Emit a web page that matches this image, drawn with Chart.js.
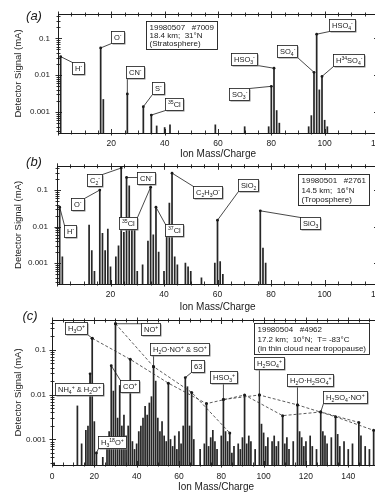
<!DOCTYPE html>
<html><head><meta charset="utf-8">
<script src="https://cdn.jsdelivr.net/npm/chart.js@4.4.1/dist/chart.umd.min.js"></script>
<style>
html,body{margin:0;padding:0;background:#fff;}
body{width:375px;height:493px;overflow:hidden;position:relative;}
canvas{position:absolute;left:0;}
</style></head><body>
<canvas id="ca" width="395" height="160" style="top:0px;width:395px;height:160px"></canvas>
<canvas id="cb" width="395" height="161" style="top:152px;width:395px;height:161px"></canvas>
<canvas id="cc" width="395" height="187" style="top:306px;width:395px;height:187px"></canvas>
<script>
// ---------- DATA ----------
// Panel (a): stratosphere negative-ion spectrum
const massA   = [1, 16, 17, 26, 32, 35, 37, 40, 42, 59, 70, 79, 80, 81, 82, 83, 94, 95, 96, 97, 98, 99, 100, 101];
const signalA = [0.032, 0.055, 0.0022, 0.0031, 0.0014, 0.00083, 0.00042, 0.00038, 0.00045, 0.00045, 0.0004, 0.0004, 0.005, 0.0155, 0.0011, 0.0005, 0.0004, 0.0008, 0.012, 0.13, 0.004, 0.0093, 0.0006, 0.0004];

// Panel (b): troposphere negative-ion spectrum
const massB   = [1, 2, 12, 13, 14, 16, 17, 18, 19, 20, 22, 23, 24, 25, 26, 27, 28, 29, 30, 32, 34, 35, 36, 37, 38, 40, 41, 42, 43, 44, 45, 48, 49, 50, 54, 59, 60, 61, 62, 76, 77, 78];
const signalB = [0.034, 0.0015, 0.011, 0.0022, 0.0006, 0.1, 0.0066, 0.0022, 0.0085, 0.0008, 0.0015, 0.003, 0.4, 0.007, 0.22, 0.13, 0.015, 0.008, 0.0006, 0.0009, 0.004, 0.12, 0.006, 0.034, 0.002, 0.0006, 0.01, 0.044, 0.29, 0.0015, 0.0009, 0.001, 0.0008, 0.0006, 0.0004, 0.001, 0.015, 0.0011, 0.0005, 0.027, 0.0026, 0.001];

// Panel (c): thin cloud positive-ion spectrum
const massC   = [1, 12, 14, 16, 17, 18, 19, 20, 21, 24, 26, 27, 28, 29, 30, 31, 32, 33, 34, 35, 36, 37, 38, 39, 40, 41, 42, 43, 44, 45, 46, 47, 48, 49, 50, 51, 52, 53, 54, 55, 56, 57, 58, 59, 60, 61, 62, 63, 64, 65, 66, 67, 70, 72, 73, 74, 75, 76, 77, 78, 80, 81, 82, 83, 84, 85, 86, 88, 89, 90, 91, 92, 93, 94, 96, 98, 99, 100, 101, 102, 104, 105, 106, 107, 109, 110, 111, 112, 114, 116, 117, 118, 119, 120, 122, 123, 125, 127, 128, 129, 130, 132, 134, 135, 136, 138, 140, 142, 145, 146, 148, 150, 152, 154];
const signalC = [0.0003, 0.0056, 0.0008, 0.0016, 0.002, 0.029, 0.18, 0.0025, 0.0005, 0.0004, 0.0006, 0.0015, 0.044, 0.012, 0.38, 0.003, 0.016, 0.002, 0.0035, 0.0012, 0.002, 0.061, 0.0009, 0.0006, 0.0008, 0.0015, 0.002, 0.003, 0.0055, 0.0035, 0.0065, 0.009, 0.042, 0.02, 0.003, 0.0015, 0.0025, 0.0012, 0.0009, 0.018, 0.001, 0.0007, 0.0012, 0.0006, 0.0015, 0.0008, 0.002, 0.024, 0.015, 0.002, 0.0112, 0.001, 0.0006, 0.0008, 0.0063, 0.0007, 0.0011, 0.0016, 0.0009, 0.0006, 0.0012, 0.0078, 0.0015, 0.0009, 0.0014, 0.0005, 0.0007, 0.0008, 0.0006, 0.0011, 0.0098, 0.0008, 0.0012, 0.0009, 0.0006, 0.0098, 0.0022, 0.0014, 0.0007, 0.0011, 0.0009, 0.0012, 0.0007, 0.0009, 0.0034, 0.0008, 0.0011, 0.0006, 0.0009, 0.0059, 0.0015, 0.0011, 0.0007, 0.0009, 0.0012, 0.0007, 0.0006, 0.0041, 0.0015, 0.0012, 0.0008, 0.0011, 0.0032, 0.0013, 0.0007, 0.0009, 0.0006, 0.0008, 0.0024, 0.0012, 0.0007, 0.0006, 0.0016, 0.0007];

// Cluster series in panel (c), joined by dashed lines (masses looked up in massC)
const seriesH3O   = [19, 37, 55, 73, 91, 109, 127, 145];
const seriesNO    = [30, 48, 66, 84];
const seriesH2SO4 = [81, 98, 116, 134, 152];

// Tick labels
const xTicksAB = [20, 40, 60, 80, 100, 120];
const xTicksC  = [0, 20, 40, 60, 80, 100, 120, 140];
const yTicks   = [0.001, 0.01, 0.1];
const yTickLabels = ['0.001', '0.01', '0.1'];

// ---------- ANNOTATIONS (text, peak mass, label offset) ----------
const annotA = [
  {t:'H^-', m:1, dx:17, dy:11},
  {t:'O^-', m:16, dx:17, dy:-11},
  {t:'CN^-', m:26, dx:8, dy:-22},
  {t:'S^-', m:32, dx:15, dy:-19},
  {t:'^{35}Cl', m:35, dx:23, dy:-11},
  {t:'SO_3^-', m:80, dx:-32, dy:8},
  {t:'HSO_3^-', m:81, dx:-30, dy:-9},
  {t:'SO_4^-', m:96, dx:-27, dy:-21},
  {t:'HSO_4^-', m:97, dx:25, dy:-9},
  {t:'H^{34}SO_4^-', m:99, dx:26, dy:-16}
];
const annotB = [
  {t:'H^-', m:1, dx:10, dy:24},
  {t:'O^-', m:16, dx:-22, dy:14},
  {t:'C_2^-', m:24, dx:-27, dy:12},
  {t:'CN^-', m:26, dx:19, dy:0},
  {t:'^{35}Cl', m:35, dx:-23, dy:36},
  {t:'^{37}Cl', m:37, dx:18, dy:23},
  {t:'C_2H_3O^-', m:43, dx:35, dy:19},
  {t:'SiO_2', m:60, dx:30, dy:-35},
  {t:'SiO_3', m:76, dx:50, dy:12}
];
const annotC = [
  {t:'H_3O^+', m:19, dx:-16, dy:-10},
  {t:'NO^+', m:30, dx:35, dy:5},
  {t:'H_2O·NO^+ & SO^+', m:48, dx:26, dy:-18},
  {t:'63', m:63, dx:12, dy:-12},
  {t:'NH_4^+ & H_2O^+', m:18, dx:-11, dy:15},
  {t:'CO^+', m:28, dx:18, dy:20},
  {t:'H_3^{18}O^+', m:21, dx:16, dy:-11},
  {t:'HSO_3^+', m:81, dx:0, dy:-22},
  {t:'H_2SO_4^+', m:98, dx:10, dy:-32},
  {t:'H_2O·H_2SO_4^+', m:116, dx:13, dy:-25},
  {t:'H_2SO_4·NO^+', m:127, dx:24, dy:-15}
];

const FONT = '"Liberation Sans", Arial, Helvetica, sans-serif';
const INK = '#1a1a1a';

// ---------- rich text helpers ----------
function parseRich(s){
  const out=[]; let i=0; let buf='';
  const flush=()=>{ if(buf){out.push({s:buf,mode:0}); buf='';} };
  while(i<s.length){
    const c=s[i];
    if(c==='_'||c==='^'){
      flush();
      let txt;
      if(s[i+1]==='{'){ const j=s.indexOf('}',i+2); txt=s.slice(i+2,j); i=j+1; }
      else { txt=s[i+1]; i+=2; }
      out.push({s:txt, mode: c==='_'?1:2});
    } else { buf+=c; i++; }
  }
  flush();
  return out;
}
function richWidth(ctx, toks, size){
  let w=0;
  toks.forEach(t=>{ ctx.font=(t.mode?size*0.68:size)+'px '+FONT; w+=ctx.measureText(t.s).width; });
  return w;
}
function drawRich(ctx, toks, x, y, size){
  ctx.textBaseline='alphabetic'; ctx.textAlign='left';
  toks.forEach(t=>{
    const fs=t.mode?size*0.68:size;
    ctx.font=fs+'px '+FONT;
    const yy = t.mode===1 ? y+size*0.28 : (t.mode===2 ? y-size*0.42 : y);
    ctx.fillText(t.s, x, yy);
    x+=ctx.measureText(t.s).width;
  });
}

function lookup(masses, sigs, m){ return sigs[masses.indexOf(m)]; }

function decoPlugin(p){
  return {
    id:'deco'+p.id,
    afterDatasetsDraw(chart){
      const {ctx, chartArea:a, scales:{x,y}} = chart;
      ctx.save();
      // frame
      ctx.strokeStyle=INK; ctx.lineWidth=1;
      ctx.strokeRect(Math.round(a.left)+0.5, Math.round(a.top)+0.5, Math.round(a.right-a.left), Math.round(a.bottom-a.top));
      // x ticks (top and bottom)
      ctx.lineWidth=0.9;
      ctx.beginPath();
      for(let m=x.min; m<=x.max+1e-9; m+=5){
        const px=Math.round(x.getPixelForValue(m))+0.5;
        const maj = (m%20===0);
        const inL = maj?4:2.5, outL = maj?2.5:1.5;
        ctx.moveTo(px, a.bottom+outL); ctx.lineTo(px, a.bottom-inL);
        ctx.moveTo(px, a.top-outL); ctx.lineTo(px, a.top+inL);
      }
      // y log ticks (left and right)
      const e0=Math.floor(Math.log10(y.min)), e1=Math.ceil(Math.log10(y.max));
      for(let e=e0;e<=e1;e++){
        for(let k=1;k<=9;k++){
          const v=k*Math.pow(10,e);
          if(v<y.min||v>y.max) continue;
          const py=Math.round(y.getPixelForValue(v))+0.5;
          const maj=(k===1);
          const inL=maj?4:2.5, outL=maj?2.5:1.5;
          ctx.moveTo(a.left-outL, py); ctx.lineTo(a.left+inL, py);
          ctx.moveTo(a.right+outL, py); ctx.lineTo(a.right-inL, py);
        }
      }
      ctx.stroke();

      // info box
      const ib=p.info;
      ctx.font='8px '+FONT;
      let w=0; ib.lines.forEach(l=>{w=Math.max(w, ctx.measureText(l).width);});
      const bx=Math.round(a.left+ib.fx*(a.right-a.left))+0.5, by=Math.round(a.top+ib.fy*(a.bottom-a.top))+0.5;
      const bw=Math.round(w+6), bh=Math.round(ib.lines.length*ib.lh+3);
      ctx.fillStyle='#fff'; ctx.fillRect(bx,by,bw,bh);
      ctx.strokeStyle=INK; ctx.lineWidth=0.9; ctx.strokeRect(bx,by,bw,bh);
      ctx.fillStyle=INK; ctx.textBaseline='middle'; ctx.textAlign='left';
      ib.lines.forEach((l,i)=>ctx.fillText(l, bx+3, by+2+ib.lh*(i+0.5)));

      // annotations
      const size=7.5;
      p.annots.forEach(an=>{
        const v=lookup(p.mass, p.sig, an.m);
        const ax=x.getPixelForValue(an.m), ay=y.getPixelForValue(v);
        const toks=parseRich(an.t);
        const tw=richWidth(ctx,toks,size);
        const w2=Math.round(tw+5), h2=12;
        const cx=ax+an.dx, cy=ay+an.dy;
        const lx=Math.round(cx-w2/2)+0.5, ty=Math.round(cy-h2/2)+0.5;
        // leader
        const qx=Math.min(Math.max(ax,lx),lx+w2), qy=Math.min(Math.max(ay,ty),ty+h2);
        ctx.strokeStyle=INK; ctx.lineWidth=0.8;
        ctx.beginPath(); ctx.moveTo(ax,ay); ctx.lineTo(qx,qy); ctx.stroke();
        ctx.fillStyle=INK; ctx.beginPath(); ctx.arc(ax,ay,1.4,0,Math.PI*2); ctx.fill();
        // shadow + box
        ctx.fillStyle='#888'; ctx.fillRect(lx+1,ty+1,w2,h2);
        ctx.fillStyle='#fff'; ctx.fillRect(lx,ty,w2,h2);
        ctx.strokeStyle=INK; ctx.lineWidth=0.8; ctx.strokeRect(lx,ty,w2,h2);
        ctx.fillStyle=INK;
        drawRich(ctx,toks,lx+2.5,ty+h2/2+2.8,size);
      });

      // panel letter
      ctx.fillStyle=INK; ctx.font='italic 13px '+FONT; ctx.textAlign='center'; ctx.textBaseline='middle';
      ctx.fillText(p.letter, a.left+p.lx, a.top+p.ly);
      ctx.restore();
    }
  };
}

function makeChart(p){
  const datasets=[{
    type:'bar',
    data:p.mass.map((m,i)=>({x:m,y:p.sig[i]})),
    backgroundColor:'#262626', borderWidth:0, barThickness:1.05, order:2
  }];
  (p.lines||[]).forEach(ser=>{
    datasets.push({
      type:'line',
      data:ser.map(m=>({x:m,y:lookup(p.mass,p.sig,m)})),
      borderColor:'#333', borderWidth:0.8, borderDash:[3,2],
      pointRadius:1.5, pointBackgroundColor:INK, pointBorderWidth:0,
      fill:false, tension:0, order:1
    });
  });
  return new Chart(document.getElementById(p.id),{
    type:'bar',
    data:{datasets},
    options:{
      responsive:false, animation:false, devicePixelRatio:1,
      layout:{padding:{left:0,right:p.padR,top:p.padT,bottom:0}},
      plugins:{legend:{display:false},tooltip:{enabled:false}},
      scales:{
        x:{type:'linear', min:0, max:p.xmax, offset:false,
           grid:{display:false,drawTicks:false}, border:{display:false},
           ticks:{autoSkip:false,maxRotation:0,padding:p.xPad,color:INK,font:{size:8.5,family:FONT},
                  callback:(v)=>String(v)},
           afterBuildTicks:(s)=>{ s.ticks=p.xTicks.map(v=>({value:v})); },
           title:{display:true,text:'Ion Mass/Charge',color:INK,font:{size:10,family:FONT},padding:{top:0,bottom:0}},
           afterFit:(s)=>{ s.height=p.xH; }
        },
        y:{type:'logarithmic', min:0.00027, max:0.46,
           grid:{display:false,drawTicks:false}, border:{display:false},
           ticks:{autoSkip:false,padding:p.yPad,color:INK,font:{size:8,family:FONT},
                  callback:(v)=>{ const i=yTicks.indexOf(v); return i>=0?yTickLabels[i]:''; }},
           afterBuildTicks:(s)=>{ s.ticks=yTicks.map(v=>({value:v})); },
           title:{display:true,text:'Detector Signal (mA)',color:INK,font:{size:9.5,family:FONT},padding:{top:p.yTitlePad,bottom:0}},
           afterFit:(s)=>{ s.width=p.yW; }
        }
      }
    },
    plugins:[decoPlugin(p)]
  });
}

makeChart({id:'ca', mass:massA, sig:signalA, annots:annotA, xmax:120, xTicks:xTicksAB,
  padT:14, padR:17, xH:27, yW:58, xPad:6, yPad:8, yTitlePad:13, letter:'(a)', lx:-24, ly:2,
  info:{lines:['19980507   #7009','18.4 km;  31°N','(Stratosphere)'], fx:0.275, fy:0.059, lh:8.3}});
makeChart({id:'cb', mass:massB, sig:signalB, annots:annotB, xmax:120, xTicks:xTicksAB,
  padT:13, padR:17, xH:29, yW:57, xPad:6, yPad:9, yTitlePad:13, letter:'(b)', lx:-23, ly:-3,
  info:{lines:['19980501   #2761','14.5 km;  16°N','(Troposphere)'], fx:0.751, fy:0.067, lh:9.2}});
makeChart({id:'cc', mass:massC, sig:signalC, annots:annotC, xmax:155, xTicks:xTicksC,
  padT:14, padR:15, xH:28, yW:52, xPad:7, yPad:6, yTitlePad:13, letter:'(c)', lx:-22, ly:-4,
  lines:[seriesH3O, seriesNO, seriesH2SO4],
  info:{lines:['19980504   #4962','17.2 km;  10°N;  T= -83°C','(in thin cloud near tropopause)'], fx:0.616, fy:0.021, lh:9.2}});
</script>
</body></html>
